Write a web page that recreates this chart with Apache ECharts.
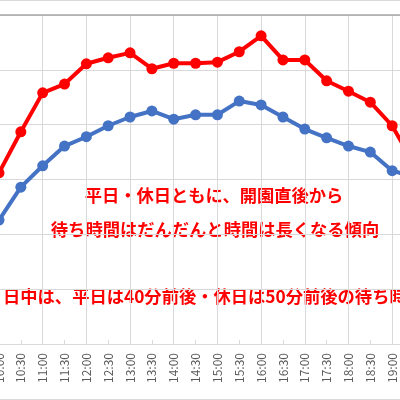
<!DOCTYPE html>
<html>
<head>
<meta charset="utf-8">
<script src="https://cdn.jsdelivr.net/npm/echarts@6/dist/echarts.min.js"></script>
<style>html,body{margin:0;padding:0;background:#fff}#c{width:400px;height:400px}</style>
</head>
<body>
<div id="c"></div>
<script>
const categories = ['10:00','10:30','11:00','11:30','12:00','12:30','13:00','13:30','14:00','14:30','15:00','15:30','16:00','16:30','17:00','17:30','18:00','18:30','19:00','19:30'];
const holiday = [31.2,38.7,45.8,47.4,51.1,52.2,53.1,50.2,51.2,51.2,51.4,53.3,56.2,51.8,51.8,48.0,46.1,44.1,39.8,32.8];
const weekday = [22.6,28.6,32.5,36.1,37.8,39.8,41.4,42.5,41.0,41.8,41.8,44.3,43.6,41.4,39.2,37.6,36.1,35.0,31.6,30.5];
const yMin = 0, yMax = 60, yStep = 10;
const note1 = '平日・休日ともに、開園直後から';
const note2 = '待ち時間はだんだんと時間は長くなる傾向';
const note3 = '日中は、平日は40分前後・休日は50分前後の待ち時間';

const chart = echarts.init(document.getElementById('c'), null, {renderer:'canvas'});
const red = '#ff0000', blue = '#4472c4', grid = '#d9d9d9';
const noteFont = 'bold 17.3px "Noto Sans CJK JP"';
chart.setOption({
  animation: false,
  backgroundColor: '#ffffff',
  grid: { left: -1, right: -14, top: 15, bottom: 56, containLabel: false, outerBoundsMode: 'none' },
  xAxis: [{
    type: 'category', data: categories, boundaryGap: false,
    axisLine: { lineStyle: { color: grid, width: 1 } },
    axisTick: { show: true, inside: true, length: 4, interval: 0, lineStyle: { color: grid } },
    axisLabel: { interval: 0, rotate: 90, margin: 9, color: '#595959', fontSize: 12, fontFamily: '"Noto Sans CJK JP"' },
    splitLine: { show: true, interval: function (i) { return i % 2 === 0; }, lineStyle: { color: grid, width: 1 } }
  }, {
    type: 'category', data: categories, boundaryGap: false, position: 'top',
    axisLine: { lineStyle: { color: '#a6a6a6', width: 1.5 } },
    axisTick: { show: false }, axisLabel: { show: false }, splitLine: { show: false }
  }],
  yAxis: {
    type: 'value', min: yMin, max: yMax, interval: yStep,
    axisLine: { show: false }, axisTick: { show: false }, axisLabel: { show: false },
    splitLine: { lineStyle: { color: grid, width: 1 } }
  },
  series: [{
    type: 'line', data: weekday, symbol: 'circle', symbolSize: 11,
    itemStyle: { color: blue }, lineStyle: { color: blue, width: 4 }
  }, {
    type: 'line', data: holiday, symbol: 'circle', symbolSize: 11,
    itemStyle: { color: red }, lineStyle: { color: red, width: 4 }
  }],
  graphic: [
    { type: 'line', shape: { x1: 0, y1: 0.5, x2: 400, y2: 0.5 }, style: { stroke: grid, lineWidth: 1 } },
    { type: 'line', shape: { x1: 0, y1: 399.5, x2: 400, y2: 399.5 }, style: { stroke: grid, lineWidth: 1 } },
    { type: 'text', x: 214, y: 195, style: { text: note1, fill: red, font: noteFont, textAlign: 'center', textVerticalAlign: 'middle' } },
    { type: 'text', x: 215, y: 229, style: { text: note2, fill: red, font: noteFont, textAlign: 'center', textVerticalAlign: 'middle' } },
    { type: 'text', x: 3, y: 296, style: { text: note3, fill: red, font: noteFont, textAlign: 'left', textVerticalAlign: 'middle' } }
  ]
});
</script>
</body>
</html>
